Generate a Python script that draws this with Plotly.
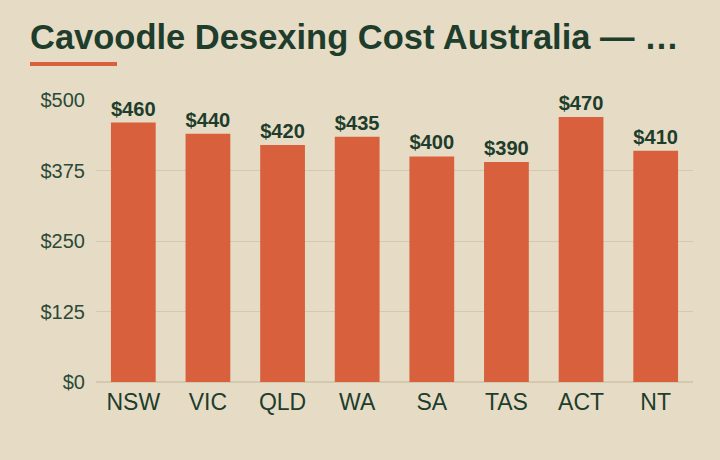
import plotly.graph_objects as go

states = ["NSW", "VIC", "QLD", "WA", "SA", "TAS", "ACT", "NT"]
costs = [460, 440, 420, 435, 400, 390, 470, 410]
tick_values = [0, 125, 250, 375, 500]
tick_labels = ["$0", "$125", "$250", "$375", "$500"]

BG = "#e6dcc5"
BAR = "#d9603c"
DARK = "#1e3d2c"
GRID = "#d4c9ae"

fig = go.Figure(go.Bar(
    x=states, y=costs,
    marker=dict(color=BAR, line=dict(width=0)),
    texttemplate="$%{y}", textposition="outside",
    textfont=dict(family="Liberation Sans", size=20.5, color=DARK, weight="bold"),
    cliponaxis=False,
    hoverinfo="skip",
))

fig.update_layout(
    width=720, height=460,
    paper_bgcolor=BG, plot_bgcolor=BG,
    margin=dict(l=96, r=27, t=100, b=78),
    bargap=0.4,
    showlegend=False,
    title=dict(
        text="<b>Cavoodle Desexing Cost Australia — …</b>",
        x=30/720, xanchor="left", xref="container",
        y=1 - 37/460, yanchor="middle", yref="container",
        font=dict(family="Liberation Sans", size=34.5, color=DARK),
    ),
    font=dict(family="Liberation Sans", color=DARK),
)
fig.update_xaxes(
    tickfont=dict(size=23, color=DARK), showgrid=False, showline=False,
    ticks="", ticklabelstandoff=4,
)
fig.update_yaxes(
    range=[0, 500], tickvals=tick_values, ticktext=tick_labels,
    tickfont=dict(size=20, color="#2b4a37"), gridcolor=GRID, gridwidth=1,
    zeroline=True, zerolinecolor=GRID, zerolinewidth=1.5, showline=False, ticks="",
    ticklabelstandoff=10,
)
fig.add_shape(type="rect", xref="paper", yref="paper",
              x0=(30-96)/597, x1=(117-96)/597,
              y0=(382-66)/282, y1=(382-62)/282,
              fillcolor=BAR, line=dict(width=0))

fig.write_html("out.html")
